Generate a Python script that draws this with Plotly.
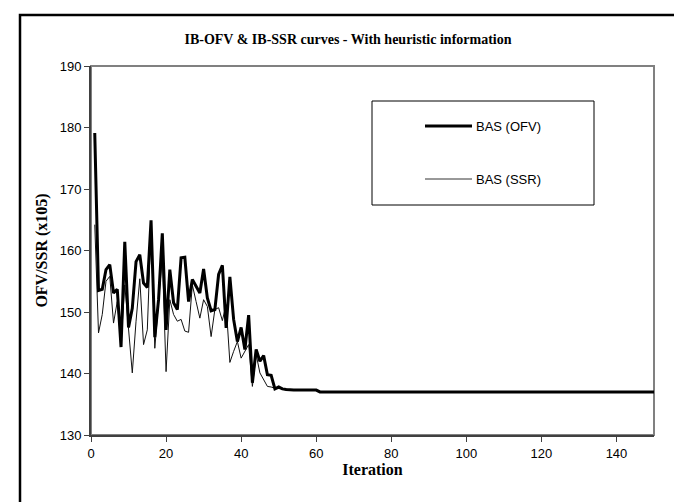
import plotly.graph_objects as go

iterations = list(range(1, 151))

ofv_head = [179.1, 153.5, 153.7, 156.9, 157.7, 153.1, 153.7, 144.3, 161.4, 147.5,
            150.6, 158.2, 159.3, 154.7, 154.0, 164.9, 145.9, 152.0, 162.8, 147.1,
            156.9, 151.5, 150.4, 158.8, 158.9, 151.7, 155.3, 154.2, 153.1, 157.0,
            152.3, 150.2, 150.4, 156.1, 157.6, 147.4, 155.7, 148.8, 145.2, 147.5,
            143.9, 149.5, 138.5, 143.9, 142.0, 142.9, 139.8, 139.7, 137.5, 137.8,
            137.5, 137.4, 137.3, 137.3, 137.3, 137.3, 137.3, 137.3, 137.3, 137.3]
ofv_tail = [137.0] * 90
ofv = ofv_head + ofv_tail

ssr_head = [164.2, 146.6, 149.6, 155.0, 155.8, 148.2, 151.7, 145.0, 154.4, 147.5,
            140.1, 148.5, 155.4, 144.7, 147.1, 163.7, 144.1, 151.7, 158.8, 140.3,
            152.0, 149.6, 148.5, 148.8, 146.9, 146.7, 154.4, 151.7, 149.0, 152.0,
            150.9, 146.0, 150.4, 150.7, 148.6, 151.2, 141.8, 143.6, 145.2, 142.5,
            143.6, 144.7, 137.9, 143.1, 140.1, 139.0, 137.9, 137.8, 137.6, 137.6,
            137.5, 137.4, 137.3, 137.3, 137.3, 137.3, 137.3, 137.3, 137.3, 137.3]
ssr = ssr_head + ofv_tail

x_ticks = [0, 20, 40, 60, 80, 100, 120, 140]
y_ticks = [130, 140, 150, 160, 170, 180, 190]

series_names = ["BAS (OFV)", "BAS (SSR)"]

fig = go.Figure()
fig.add_trace(go.Scatter(x=iterations, y=ssr, mode="lines", name=series_names[1],
                         line=dict(color="#111111", width=1), showlegend=False))
fig.add_trace(go.Scatter(x=iterations, y=ofv, mode="lines", name=series_names[0],
                         line=dict(color="#000000", width=3), showlegend=False))

L, R, T, B = 83, 646, 58, 427
W, H = 682, 502

def px(xp):
    return (xp - L) / (R - L)

def py(yp):
    return (B - yp) / (B - T)

shapes = [
    # outer frame
    dict(type="rect", xref="paper", yref="paper", x0=px(12), x1=px(674), y0=py(499), y1=py(7),
         line=dict(color="black", width=2.5), layer="below"),
    # plot frame
    dict(type="rect", xref="paper", yref="paper", x0=0, x1=1, y0=0, y1=1,
         line=dict(color="#808080", width=2), layer="below"),
    # legend box
    dict(type="rect", xref="paper", yref="paper", x0=px(364), x1=px(586), y0=py(197), y1=py(93),
         line=dict(color="black", width=1), fillcolor="white"),
    dict(type="line", xref="paper", yref="paper", x0=px(417), x1=px(464), y0=py(118), y1=py(118),
         line=dict(color="black", width=3)),
    dict(type="line", xref="paper", yref="paper", x0=px(417), x1=px(464), y0=py(171), y1=py(171),
         line=dict(color="#333333", width=1)),
]

annotations = [
    dict(xref="paper", yref="paper", x=px(466), y=py(118), text=series_names[0], showarrow=False,
         xanchor="left", yanchor="middle", font=dict(family="Liberation Sans, Arial", size=13, color="black")),
    dict(xref="paper", yref="paper", x=px(466), y=py(171), text=series_names[1], showarrow=False,
         xanchor="left", yanchor="middle", font=dict(family="Liberation Sans, Arial", size=13, color="black")),
]

fig.update_layout(
    width=W, height=H,
    margin=dict(l=L, r=W - R, t=T, b=H - B),
    paper_bgcolor="white", plot_bgcolor="white",
    title=dict(text="<b>IB-OFV & IB-SSR curves - With heuristic information</b>",
               x=(340) / W, xanchor="center", y=1 - 31 / H, yanchor="middle",
               font=dict(family="Liberation Serif, Times New Roman", size=14, color="black")),
    shapes=shapes, annotations=annotations,
    showlegend=False,
)
fig.update_xaxes(range=[0, 150], tickvals=x_ticks, showgrid=False, zeroline=False,
                 showline=True, linecolor="#404040", linewidth=2,
                 ticks="outside", ticklen=5, tickcolor="#404040", tickwidth=1,
                 tickfont=dict(family="Liberation Sans, Arial", size=13, color="black"),
                 title=dict(text="<b>Iteration</b>", standoff=2,
                            font=dict(family="Liberation Serif, Times New Roman", size=16, color="black")))
fig.update_yaxes(range=[130, 190], tickvals=y_ticks, showgrid=False, zeroline=False,
                 showline=True, linecolor="#404040", linewidth=2,
                 ticks="outside", ticklen=5, tickcolor="#404040", tickwidth=1,
                 tickfont=dict(family="Liberation Sans, Arial", size=13, color="black"),
                 title=dict(text="<b>OFV/SSR (x105)</b>", standoff=8,
                            font=dict(family="Liberation Serif, Times New Roman", size=16, color="black")))

fig.write_html("out.html")
